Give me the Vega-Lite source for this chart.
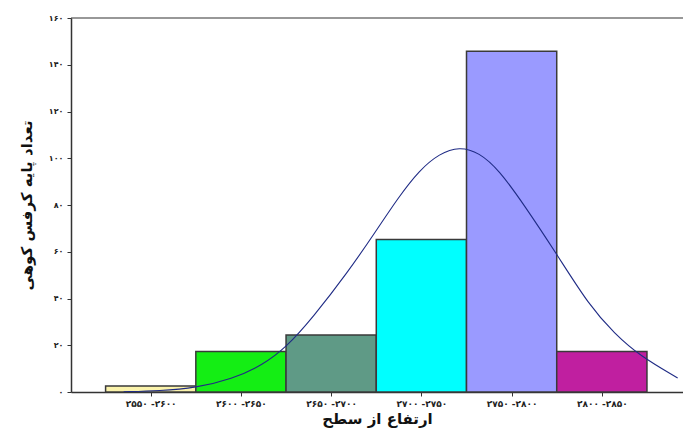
{
  "$schema": "https://vega.github.io/schema/vega-lite/v6.json",
  "width": 612,
  "height": 374,
  "autosize": {"type": "none"},
  "padding": {"left": 71, "top": 18, "right": 0, "bottom": 41},
  "background": "white",
  "config": {"view": {"stroke": null}, "font": "DejaVu Sans"},
  "datasets": {
    "bars": [
      {"from": 2550, "to": 2600, "count": 2.6, "bin": "۲۵۵۰-۲۶۰۰"},
      {"from": 2600, "to": 2650, "count": 17.3, "bin": "۲۶۰۰-۲۶۵۰"},
      {"from": 2650, "to": 2700, "count": 24.4, "bin": "۲۶۵۰-۲۷۰۰"},
      {"from": 2700, "to": 2750, "count": 65.2, "bin": "۲۷۰۰-۲۷۵۰"},
      {"from": 2750, "to": 2800, "count": 145.8, "bin": "۲۷۵۰-۲۸۰۰"},
      {"from": 2800, "to": 2850, "count": 17.3, "bin": "۲۸۰۰-۲۸۵۰"}
    ],
    "curve": [
      {"h": 2560, "n": 0.1},
      {"h": 2580, "n": 0.5},
      {"h": 2600, "n": 1.8},
      {"h": 2620, "n": 5.5},
      {"h": 2637, "n": 11.5},
      {"h": 2650, "n": 19},
      {"h": 2665, "n": 32},
      {"h": 2684, "n": 51},
      {"h": 2700, "n": 69},
      {"h": 2712, "n": 83},
      {"h": 2724, "n": 95},
      {"h": 2735, "n": 102},
      {"h": 2746, "n": 105},
      {"h": 2757, "n": 102.5},
      {"h": 2768, "n": 95},
      {"h": 2782, "n": 80},
      {"h": 2800, "n": 59},
      {"h": 2818, "n": 37},
      {"h": 2832, "n": 25},
      {"h": 2846, "n": 15.5},
      {"h": 2867, "n": 6}
    ]
  },
  "layer": [
    {
      "data": {"name": "bars"},
      "mark": {"type": "bar", "stroke": "#3a3a3a", "strokeWidth": 1.5, "orient": "vertical"},
      "encoding": {
        "x": {
          "field": "from", "type": "quantitative",
          "scale": {"domain": [2533.6, 2867.2], "nice": false, "zero": false},
          "axis": {
            "values": [2575, 2625, 2675, 2725, 2775, 2825],
            "labelExpr": "datum.value==2575?'۲۵۵۰ -۲۶۰۰':datum.value==2625?'۲۶۰۰ -۲۶۵۰':datum.value==2675?'۲۶۵۰ -۲۷۰۰':datum.value==2725?'۲۷۰۰ -۲۷۵۰':datum.value==2775?'۲۷۵۰ -۲۸۰۰':'۲۸۰۰ -۲۸۵۰'",
            "title": "ارتفاع از سطح",
            "titleFont": "DejaVu Sans", "titleFontSize": 15, "titleFontWeight": "bold", "titleColor": "#111",
            "titlePadding": 3,
            "labelFont": "DejaVu Sans", "labelFontSize": 9, "labelFontWeight": "bold", "labelColor": "#222",
            "labelPadding": 3, "tickSize": 4, "tickColor": "#333", "domainColor": "#333", "domainWidth": 1.5,
            "grid": false
          }
        },
        "x2": {"field": "to"},
        "y": {
          "field": "count", "type": "quantitative",
          "scale": {"domain": [0, 160], "nice": false},
          "axis": {
            "values": [0, 20, 40, 60, 80, 100, 120, 140, 160],
            "labelExpr": "datum.value==0?'۰':datum.value==20?'۲۰':datum.value==40?'۴۰':datum.value==60?'۶۰':datum.value==80?'۸۰':datum.value==100?'۱۰۰':datum.value==120?'۱۲۰':datum.value==140?'۱۴۰':'۱۶۰'",
            "title": "تعداد پایه کرفس کوهی",
            "titleFont": "DejaVu Sans", "titleFontSize": 15, "titleFontWeight": "bold", "titleColor": "#111",
            "titlePadding": 14,
            "labelFont": "DejaVu Sans", "labelFontSize": 8, "labelFontWeight": "bold", "labelColor": "#222",
            "labelPadding": 4, "tickSize": 4, "tickColor": "#333", "domainColor": "#333", "domainWidth": 1.5,
            "grid": false
          }
        },
        "y2": {"datum": 0},
        "color": {
          "field": "bin", "type": "nominal",
          "scale": {
            "domain": ["۲۵۵۰-۲۶۰۰", "۲۶۰۰-۲۶۵۰", "۲۶۵۰-۲۷۰۰", "۲۷۰۰-۲۷۵۰", "۲۷۵۰-۲۸۰۰", "۲۸۰۰-۲۸۵۰"],
            "range": ["#fbf3ab", "#14ee14", "#5f9a86", "#00ffff", "#9a9aff", "#c01fa0"]
          },
          "legend": null
        }
      }
    },
    {
      "data": {"name": "curve"},
      "mark": {"type": "line", "interpolate": "basis", "color": "#1f2b85", "strokeWidth": 1.1, "clip": true},
      "encoding": {
        "x": {"field": "h", "type": "quantitative"},
        "y": {"field": "n", "type": "quantitative"}
      }
    },
    {
      "data": {"values": [{}]},
      "mark": {"type": "rule", "color": "#333", "strokeWidth": 1.2},
      "encoding": {"y": {"datum": 160}}
    }
  ]
}
